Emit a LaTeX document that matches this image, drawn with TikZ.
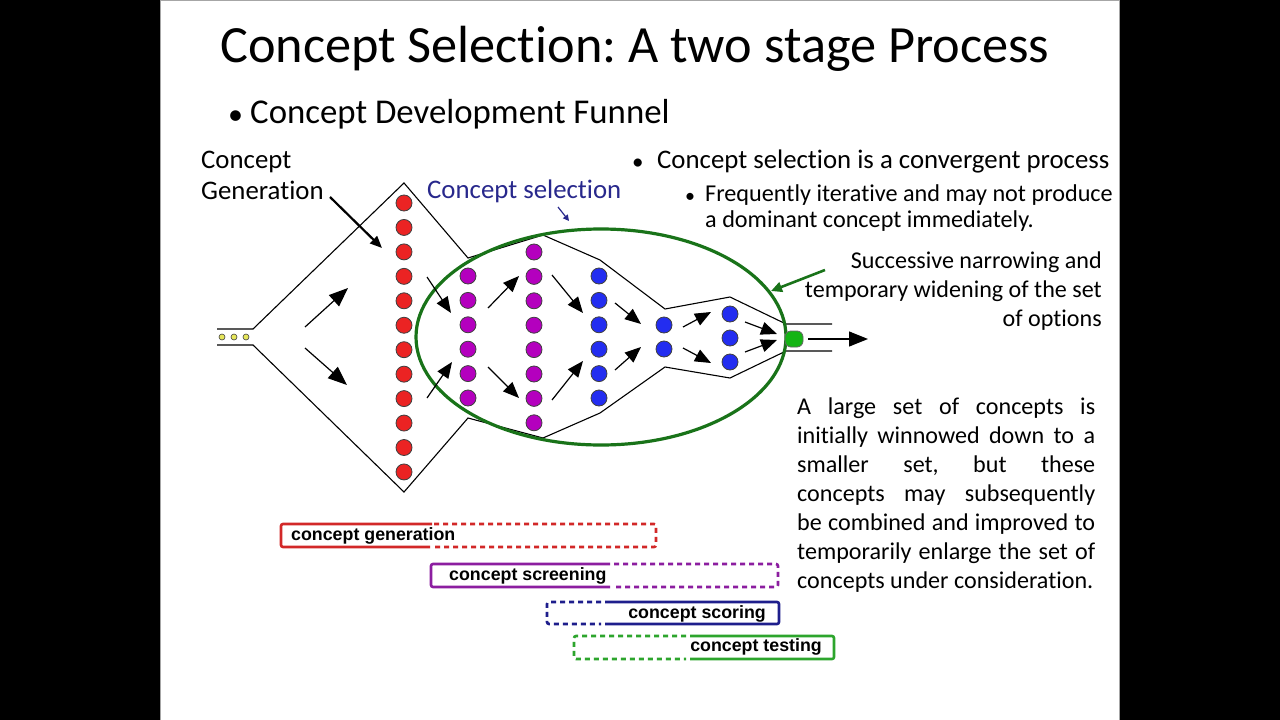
\documentclass[tikz,border=0pt]{standalone}
\usepackage{fontspec}
\setmainfont{Carlito}[Ligatures=NoCommon]
\newfontfamily\arialfont{Liberation Sans}
\usetikzlibrary{arrows.meta}
\frenchspacing
\definecolor{dotred}{RGB}{235,35,35}
\definecolor{dotpurple}{RGB}{180,0,190}
\definecolor{dotblue}{RGB}{35,45,240}
\definecolor{dotgreen}{RGB}{20,180,20}
\definecolor{dotyellow}{RGB}{230,230,90}
\definecolor{ellgreen}{RGB}{25,115,25}
\definecolor{selblue}{RGB}{40,40,140}
\definecolor{barred}{RGB}{210,40,40}
\definecolor{barpurple}{RGB}{140,30,160}
\definecolor{barblue}{RGB}{30,30,140}
\definecolor{bargreen}{RGB}{45,165,45}
\begin{document}
\begin{tikzpicture}[x=1pt,y=-1pt,
  dotc/.style={circle, draw=black!75, line width=0.8pt, inner sep=0pt, minimum size=16pt},
  rdot/.style={dotc, fill=dotred},
  pdot/.style={dotc, fill=dotpurple},
  bdot/.style={dotc, fill=dotblue},
  ydot/.style={circle, draw=black!75, line width=0.6pt, inner sep=0pt, minimum size=6pt, fill=dotyellow},
  arr/.style={line width=1.2pt, -{Triangle[length=16pt,width=13pt]}},
  bigarr/.style={line width=1.2pt, -{Triangle[length=19pt,width=15pt]}},
  funnel/.style={line width=1.1pt, black},
  txt/.style={inner sep=0pt, font=\fontsize{26.8}{30}\selectfont},
  bartxt/.style={inner sep=0pt, font=\arialfont\bfseries\fontsize{17.8}{20}\selectfont},
  bar/.style={line width=2.6pt, rounded corners=2pt},
  dbar/.style={bar, dash pattern=on 5pt off 4pt},
]
\useasboundingbox (0,0) rectangle (1280,720);
\fill[black] (0,0) rectangle (1280,720);
\fill[white] (160,0) rectangle (1120,720);
\draw[gray!70, line width=1pt] (160.5,720) -- (160.5,0.5) -- (1119.5,0.5) -- (1119.5,720);

% titles
\node[inner sep=0pt, anchor=base west, font=\fontsize{52.3}{56}\selectfont] (title) at (220,62) {Concept Selection: A two stage Process};
\node[inner sep=0pt, anchor=base west, font=\fontsize{30}{36}\selectfont] (b1) at (228,124) {•};
\node[inner sep=0pt, anchor=base west, font=\fontsize{34.8}{38}\selectfont] (t1) at (250,123) {Concept Development Funnel};

% funnel outline
\draw[funnel] (217,329) -- (253,329) -- (404,183) -- (468,258) -- (543,235) -- (600,260) -- (665,309) -- (730,297) -- (786,324) -- (832,324);
\draw[funnel] (217,345) -- (253,345) -- (404,492) -- (468,418) -- (543,438) -- (600,413) -- (665,367) -- (730,378) -- (786,351) -- (832,351);

% selection ellipse
\draw[ellgreen, line width=3.2pt] (601,337) ellipse [x radius=185, y radius=108];

% dots
\foreach \i in {1,...,3} \node[ydot] (y\i) at ({210+12*\i},337) {};
\foreach \i in {0,...,11} \node[rdot] (r\i) at (404,{203+24.45*\i}) {};
\foreach \i in {0,...,5} \node[pdot] (pa\i) at (468,{276+24.4*\i}) {};
\foreach \i in {0,...,7} \node[pdot] (pb\i) at (534,{252+24.4*\i}) {};
\foreach \i in {0,...,5} \node[bdot] (ba\i) at (599,{276+24.4*\i}) {};
\node[bdot] (bb0) at (664,325) {};
\node[bdot] (bb1) at (664,349) {};
\node[bdot] (bc0) at (730,314) {};
\node[bdot] (bc1) at (730,338) {};
\node[bdot] (bc2) at (730,362) {};
\node[draw=black!60, line width=0.8pt, fill=dotgreen, rounded corners=6pt, minimum width=18pt, minimum height=16pt, inner sep=0pt] (gdot) at (794,339) {};

% arrow endpoints
\coordinate (a1s) at (305,327); \coordinate (a1e) at (348,288);
\coordinate (a2s) at (305,348); \coordinate (a2e) at (347,385);
\coordinate (a3s) at (427,277); \coordinate (a3e) at (451,313);
\coordinate (a4s) at (427,398); \coordinate (a4e) at (452,362);
\coordinate (a5s) at (488,308); \coordinate (a5e) at (519,276);
\coordinate (a6s) at (488,367); \coordinate (a6e) at (519,398);
\coordinate (a7s) at (552,275); \coordinate (a7e) at (583,313);
\coordinate (a8s) at (552,400); \coordinate (a8e) at (583,361);
\coordinate (a9s) at (615,303); \coordinate (a9e) at (641,324);
\coordinate (a10s) at (615,370); \coordinate (a10e) at (641,347);
\coordinate (a11s) at (683,327); \coordinate (a11e) at (711,312);
\coordinate (a12s) at (683,348); \coordinate (a12e) at (711,363);
\coordinate (a13s) at (745,322); \coordinate (a13e) at (777,334);
\coordinate (a14s) at (745,352); \coordinate (a14e) at (777,340);
\coordinate (outs) at (808,339); \coordinate (oute) at (868,339);

\draw[bigarr] (a1s) -- (a1e);
\draw[bigarr] (a2s) -- (a2e);
\foreach \k in {3,...,14} \draw[arr] (a\k s) -- (a\k e);
\draw[bigarr] (outs) -- (oute);

% Concept Generation label
\node[txt, anchor=base west] (cg1) at (201,168) {Concept};
\node[txt, anchor=base west] (cg2) at (201,199) {Generation};
\coordinate (cgs) at (330,197); \coordinate (cge) at (382,248);
\draw[line width=2.2pt, -{Triangle[length=12pt,width=10pt]}] (cgs) -- (cge);

% Concept selection label
\node[txt, anchor=base west, text=selblue] (cs) at (427,198) {Concept selection};
\coordinate (css) at (558,207); \coordinate (cse) at (569,221);
\draw[selblue, line width=1.2pt, -{Triangle[length=6pt,width=6pt]}] (css) -- (cse);

% right bullets
\node[inner sep=0pt, anchor=base west, font=\fontsize{23}{27}\selectfont] (rb1) at (632,169) {•};
\node[inner sep=0pt, anchor=base west, font=\fontsize{26.8}{30}\selectfont] (rt1) at (657,168) {Concept selection is a convergent process};
\node[inner sep=0pt, anchor=base west, font=\fontsize{20}{22}\selectfont] (rb2) at (685,202) {•};
\node[inner sep=0pt, anchor=base west, font=\fontsize{24.2}{27}\selectfont] (rt2) at (705,201) {Frequently iterative and may not produce};
\node[inner sep=0pt, anchor=base west, font=\fontsize{24.2}{27}\selectfont] (rt3) at (705,227) {a dominant concept immediately.};

% narrowing text
\node[inner sep=0pt, anchor=base east, font=\fontsize{24.1}{27}\selectfont] (n1) at (1102,268) {Successive narrowing and};
\node[inner sep=0pt, anchor=base east, font=\fontsize{24.1}{27}\selectfont] (n2) at (1102,297) {temporary widening of the set};
\node[inner sep=0pt, anchor=base east, font=\fontsize{24.1}{27}\selectfont] (n3) at (1102,326) {of options};
\coordinate (ngs) at (825,270); \coordinate (nge) at (771,291);
\draw[ellgreen, line width=2.6pt, -{Triangle[length=11pt,width=10pt]}] (ngs) -- (nge);

% paragraph
\begin{scope}[every node/.style={inner sep=0pt, anchor=base west, font=\fontsize{24.1}{27}\selectfont}]
\node (p1) at (797,414) {\makebox[298pt][s]{A large set of concepts is}};
\node (p2) at (797,443) {\makebox[298pt][s]{initially winnowed down to a}};
\node (p3) at (797,472) {\makebox[298pt][s]{smaller set, but these}};
\node (p4) at (797,501) {\makebox[298pt][s]{concepts may subsequently}};
\node (p5) at (797,530) {\makebox[298pt][s]{be combined and improved to}};
\node (p6) at (797,559) {\makebox[298pt][s]{temporarily enlarge the set of}};
\node (p7) at (797,588) {concepts under consideration.};
\end{scope}

% bars
\draw[bar, barred] (432,524) -- (281,524) -- (281,547) -- (430,547);
\draw[dbar, barred] (434,524) -- (656,524) -- (656,547) -- (432,547);
\node[bartxt, anchor=base west] (bg) at (291,540) {concept generation};

\draw[bar, barpurple] (610,564) -- (431,564) -- (431,587) -- (610,587);
\draw[dbar, barpurple] (614,564) -- (778,564) -- (778,587) -- (614,587);
\node[bartxt, anchor=base west] (bs) at (449,580) {concept screening};

\draw[bar, barblue] (605,602) -- (779,602) -- (779,624) -- (605,624);
\draw[dbar, barblue] (601,602) -- (547,602) -- (547,624) -- (601,624);
\node[bartxt, anchor=base east] (bsc) at (766,618) {concept scoring};

\draw[bar, bargreen] (690,636) -- (834,636) -- (834,659) -- (690,659);
\draw[dbar, bargreen] (686,636) -- (574,636) -- (574,659) -- (686,659);
\node[bartxt, anchor=base east] (bt) at (822,651) {concept testing};
\end{tikzpicture}
\end{document}
